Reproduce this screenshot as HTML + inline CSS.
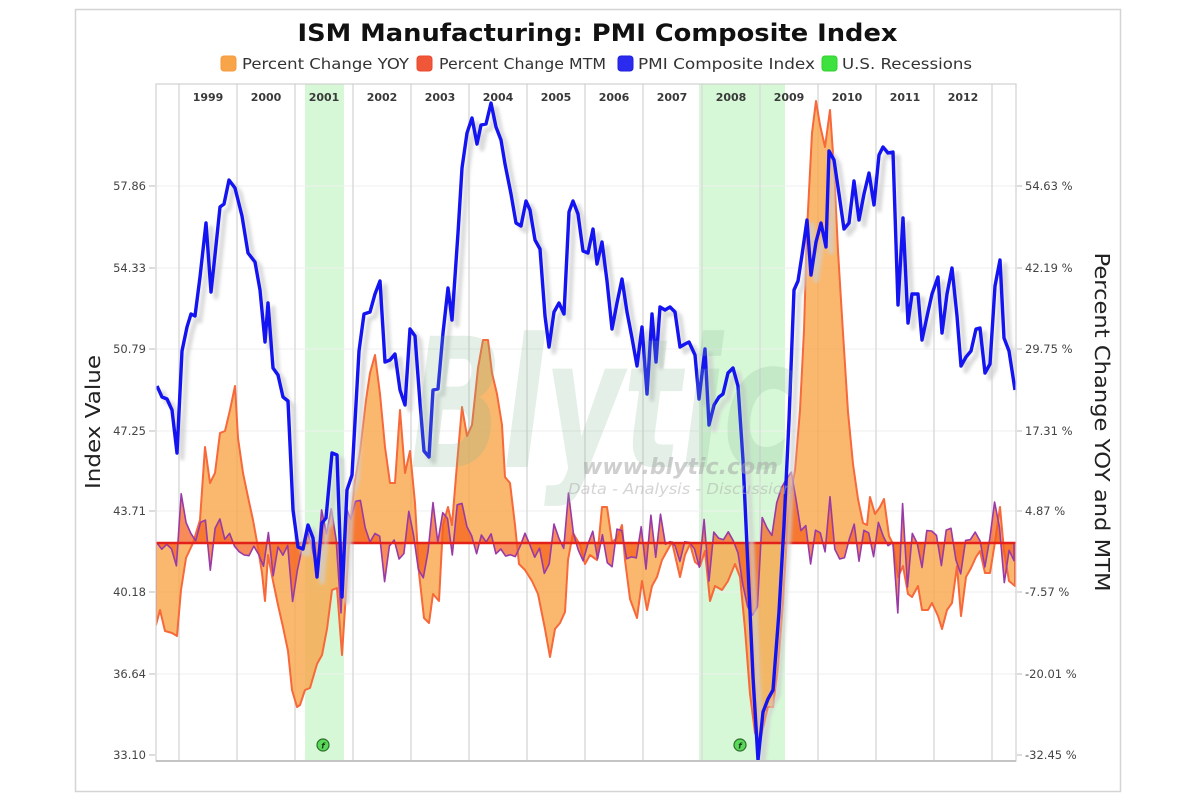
<!DOCTYPE html>
<html>
<head>
<meta charset="utf-8">
<style>
  html,body{margin:0;padding:0;background:#fff;}
  svg{display:block;}
  text{font-family:"DejaVu Sans","Liberation Sans",sans-serif;}
</style>
</head>
<body>
<svg id="chart" width="1200" height="800" viewBox="0 0 1200 800" xmlns="http://www.w3.org/2000/svg">
  <defs>
    <filter id="blur" x="-5%" y="-5%" width="110%" height="110%"><feGaussianBlur stdDeviation="1.6"/></filter>
    <clipPath id="plotclip"><rect x="156" y="84" width="861" height="677"/></clipPath>
  </defs>
  <rect x="0" y="0" width="1200" height="800" fill="#fff"/>
  <!-- outer frame -->
  <rect x="75.5" y="9.5" width="1045" height="782" fill="#fff" stroke="#d4d4d4" stroke-width="1.5"/>

  <!-- title -->
  <text x="597.5" y="41" text-anchor="middle" font-size="24" font-weight="bold" fill="#111" textLength="600" lengthAdjust="spacingAndGlyphs">ISM Manufacturing: PMI Composite Index</text>

  <!-- legend -->
  <rect x="221" y="56" width="15" height="15" rx="3" fill="#f8a54a" stroke="#f59a3c"/>
  <text x="242" y="69" font-size="15" fill="#333" textLength="167" lengthAdjust="spacingAndGlyphs">Percent Change YOY</text>
  <rect x="417" y="56" width="15" height="15" rx="3" fill="#f05638" stroke="#e84a30"/>
  <text x="439" y="69" font-size="15" fill="#333" textLength="167" lengthAdjust="spacingAndGlyphs">Percent Change MTM</text>
  <rect x="618" y="56" width="15" height="15" rx="3" fill="#2b2bf0" stroke="#2020d8"/>
  <text x="638" y="69" font-size="15" fill="#333" textLength="177" lengthAdjust="spacingAndGlyphs">PMI Composite Index</text>
  <rect x="822" y="56" width="15" height="15" rx="3" fill="#3ee23e" stroke="#30d030"/>
  <text x="842" y="69" font-size="15" fill="#333" textLength="130" lengthAdjust="spacingAndGlyphs">U.S. Recessions</text>

  <!-- plot area -->
  <rect x="156" y="84" width="860" height="677" fill="#fff"/>
  <!-- recessions -->
  <rect x="305" y="84" width="39" height="677" fill="#d6f8d6"/>
  <rect x="699" y="84" width="86" height="677" fill="#d6f8d6"/>

  <!-- horizontal gridlines -->
  <g stroke="#efefef" stroke-width="1">
    <line x1="156" y1="186" x2="1016" y2="186"/>
    <line x1="156" y1="268" x2="1016" y2="268"/>
    <line x1="156" y1="349" x2="1016" y2="349"/>
    <line x1="156" y1="431" x2="1016" y2="431"/>
    <line x1="156" y1="511" x2="1016" y2="511"/>
    <line x1="156" y1="592" x2="1016" y2="592"/>
    <line x1="156" y1="674" x2="1016" y2="674"/>
  </g>
  <!-- vertical year gridlines -->
  <g stroke="#dcdcdc" stroke-width="1.5">
    <line x1="179" y1="84" x2="179" y2="761"/>
    <line x1="237" y1="84" x2="237" y2="761"/>
    <line x1="295" y1="84" x2="295" y2="761"/>
    <line x1="353" y1="84" x2="353" y2="761"/>
    <line x1="411" y1="84" x2="411" y2="761"/>
    <line x1="469" y1="84" x2="469" y2="761"/>
    <line x1="527" y1="84" x2="527" y2="761"/>
    <line x1="585" y1="84" x2="585" y2="761"/>
    <line x1="643" y1="84" x2="643" y2="761"/>
    <line x1="702" y1="84" x2="702" y2="761"/>
    <line x1="760" y1="84" x2="760" y2="761"/>
    <line x1="818" y1="84" x2="818" y2="761"/>
    <line x1="876" y1="84" x2="876" y2="761"/>
    <line x1="934" y1="84" x2="934" y2="761"/>
    <line x1="992" y1="84" x2="992" y2="761"/>
  </g>

  <!-- year labels -->
  <g font-size="11" font-weight="bold" fill="#3a3a3a" text-anchor="middle">
    <text x="208" y="101">1999</text>
    <text x="266" y="101">2000</text>
    <text x="324" y="101">2001</text>
    <text x="382" y="101">2002</text>
    <text x="440" y="101">2003</text>
    <text x="498" y="101">2004</text>
    <text x="556" y="101">2005</text>
    <text x="614" y="101">2006</text>
    <text x="672" y="101">2007</text>
    <text x="731" y="101">2008</text>
    <text x="789" y="101">2009</text>
    <text x="847" y="101">2010</text>
    <text x="905" y="101">2011</text>
    <text x="963" y="101">2012</text>
  </g>

  <g clip-path="url(#plotclip)">
    <!-- YOY area -->
    <path id="yoy" fill="#f9a64a" fill-opacity="0.8" stroke="#f7683a" stroke-width="2" stroke-linejoin="round"
      d="M156,543 L156,625 160,610 165,631 172,633 177,636 181,590 186,558 193,543 200,520 205,447 210,483 215,473 220,433 225,431 230,410 235,386 238,438 243,473 248,497 253,520 257,542 262,573 265,601 268,555 273,581 278,605 283,627 288,651 292,690 297,707 300,705 305,690 310,688 317,664 322,655 327,629 332,590 337,588 342,655 347,577 350,525 355,481 360,451 366,400 370,373 375,355 380,394 385,447 390,483 395,483 400,410 405,473 410,451 415,503 419,573 424,618 429,623 433,594 439,601 443,525 448,507 452,525 457,464 462,407 467,436 472,425 478,368 483,340 488,340 492,373 497,394 502,425 505,477 510,483 515,525 519,564 525,570 532,581 538,594 545,629 550,657 555,629 560,623 565,612 568,560 573,533 580,545 585,564 590,555 597,560 602,507 607,507 612,542 617,538 622,525 625,560 630,599 637,618 642,581 647,610 652,586 657,577 662,560 667,551 672,542 677,564 680,577 685,555 690,544 695,562 700,566 705,551 710,601 715,586 722,590 728,581 735,564 740,577 745,629 750,694 755,733 760,742 765,720 768,707 773,707 778,668 783,603 788,520 793,481 795,470 800,410 804,330 807,230 812,133 816,101 820,125 825,147 830,110 834,168 838,251 843,333 848,412 853,464 858,499 863,523 867,525 870,497 875,514 880,507 884,499 889,536 893,544 898,577 903,566 908,594 912,597 918,586 922,610 928,610 932,603 938,616 942,629 947,610 952,603 957,566 961,616 966,577 971,568 976,557 980,551 985,573 990,573 995,542 1000,507 1004,551 1009,581 1015,586 L1015,543 Z"/>
    <!-- MTM area (generated) -->
    <path id="mtm" fill="#f4601a" fill-opacity="0.72" stroke="#9a3aa6" stroke-width="1.6" stroke-linejoin="round" d=""/>
    <!-- zero line -->
    <line x1="156" y1="543" x2="1016" y2="543" stroke="#e4201a" stroke-width="2.6"/>
    <!-- blue shadow -->
    <polyline id="blueShadow" fill="none" stroke="#cfcfcf" stroke-width="5" stroke-opacity="0.75" stroke-linejoin="round" transform="translate(5,5)" filter="url(#blur)" points=""/>
    <!-- blue line -->
    <polyline id="blue" fill="none" stroke="#1414f2" stroke-width="3.4" stroke-linejoin="round" points=""/>
  </g>

  <!-- watermark -->
  <g>
    <text x="410" y="467" font-family="Liberation Sans, sans-serif" font-size="180" font-weight="bold" font-style="italic" fill="#7fb592" fill-opacity="0.22" textLength="385" lengthAdjust="spacingAndGlyphs">Blytic</text>
    <text x="582" y="474" font-family="Liberation Sans, sans-serif" font-size="22" font-weight="bold" font-style="italic" fill="#a8a8a8" fill-opacity="0.55" textLength="196" lengthAdjust="spacingAndGlyphs">www.blytic.com</text>
    <text x="568" y="494" font-family="Liberation Sans, sans-serif" font-size="15" font-style="italic" fill="#b0b0b0" fill-opacity="0.55" textLength="225" lengthAdjust="spacingAndGlyphs">Data - Analysis - Discussion</text>
  </g>

  <!-- recession markers -->
  <g>
    <circle cx="323" cy="745" r="6" fill="#5ad85a" stroke="#2c6e2c" stroke-width="1.2"/>
    <text x="323" y="748.5" font-size="8" font-style="italic" font-weight="bold" fill="#1a3a1a" text-anchor="middle">f</text>
    <circle cx="740" cy="745" r="6" fill="#5ad85a" stroke="#2c6e2c" stroke-width="1.2"/>
    <text x="740" y="748.5" font-size="8" font-style="italic" font-weight="bold" fill="#1a3a1a" text-anchor="middle">f</text>
  </g>

  <!-- plot border -->
  <rect x="156" y="84" width="860" height="677" fill="none" stroke="#d0d0d0" stroke-width="1.2"/>
  <line x1="156" y1="761" x2="1016" y2="761" stroke="#c4c4c4" stroke-width="2"/>

  <!-- left ticks & labels -->
  <g stroke="#bbb" stroke-width="1">
    <line x1="149" y1="186" x2="155" y2="186"/>
    <line x1="149" y1="268" x2="155" y2="268"/>
    <line x1="149" y1="349" x2="155" y2="349"/>
    <line x1="149" y1="431" x2="155" y2="431"/>
    <line x1="149" y1="511" x2="155" y2="511"/>
    <line x1="149" y1="592" x2="155" y2="592"/>
    <line x1="149" y1="674" x2="155" y2="674"/>
    <line x1="149" y1="755" x2="155" y2="755"/>
    <line x1="1017" y1="186" x2="1022" y2="186"/>
    <line x1="1017" y1="268" x2="1022" y2="268"/>
    <line x1="1017" y1="349" x2="1022" y2="349"/>
    <line x1="1017" y1="431" x2="1022" y2="431"/>
    <line x1="1017" y1="511" x2="1022" y2="511"/>
    <line x1="1017" y1="592" x2="1022" y2="592"/>
    <line x1="1017" y1="674" x2="1022" y2="674"/>
    <line x1="1017" y1="755" x2="1022" y2="755"/>
  </g>
  <g font-size="11.5" fill="#444" text-anchor="end">
    <text x="146" y="190">57.86</text>
    <text x="146" y="272">54.33</text>
    <text x="146" y="353">50.79</text>
    <text x="146" y="435">47.25</text>
    <text x="146" y="515">43.71</text>
    <text x="146" y="596">40.18</text>
    <text x="146" y="678">36.64</text>
    <text x="146" y="759">33.10</text>
  </g>
  <g font-size="11.5" fill="#444" text-anchor="start">
    <text x="1025" y="190">54.63 %</text>
    <text x="1025" y="272">42.19 %</text>
    <text x="1025" y="353">29.75 %</text>
    <text x="1025" y="435">17.31 %</text>
    <text x="1025" y="515">4.87 %</text>
    <text x="1025" y="596">-7.57 %</text>
    <text x="1025" y="678">-20.01 %</text>
    <text x="1025" y="759">-32.45 %</text>
  </g>

  <!-- axis titles -->
  <text transform="translate(100,422) rotate(-90)" text-anchor="middle" font-size="20" fill="#222" textLength="134" lengthAdjust="spacingAndGlyphs">Index Value</text>
  <text transform="translate(1095,422) rotate(90)" text-anchor="middle" font-size="20" fill="#222" textLength="339" lengthAdjust="spacingAndGlyphs">Percent Change YOY and MTM</text>
</svg>

<script>
(function(){
  var pts = "157,386 162,397 167,399 172,410 177,453 182,351 187,327 191,314 195,316 200,277 206,223 211,292 215,255 220,207 224,204 229,180 235,188 242,216 248,253 255,262 260,290 265,342 268,303 273,368 278,375 283,397 288,401 293,510 298,547 303,549 308,525 313,538 317,577 322,523 326,518 332,453 337,455 342,597 347,490 352,475 359,351 364,314 370,312 375,294 380,281 385,362 390,360 395,354 400,390 405,405 410,329 415,336 420,403 424,451 429,457 433,390 438,389 443,333 448,288 452,320 458,233 462,168 467,133 472,118 477,144 481,125 486,124 491,103 496,127 501,140 505,164 511,194 516,223 521,226 526,201 530,210 535,240 540,249 545,316 549,347 554,312 559,303 564,314 569,212 573,201 578,214 583,251 588,253 593,229 597,264 602,242 607,281 612,329 617,303 622,279 627,312 632,338 637,366 642,327 647,394 652,314 656,362 660,307 665,310 670,307 675,312 680,347 685,344 689,342 695,355 699,399 705,349 709,425 714,405 719,397 723,394 728,373 733,368 738,386 743,460 748,568 753,677 758,760 763,712 768,699 773,690 779,612 784,525 789,420 794,290 798,281 802,255 807,220 811,275 816,242 821,223 826,247 829,151 834,160 839,194 844,229 849,223 854,181 859,220 864,194 869,173 874,205 879,155 883,147 888,153 893,152 898,305 903,218 908,323 912,294 918,294 922,340 928,312 932,294 938,277 942,333 947,294 952,268 957,316 961,366 966,357 971,351 976,329 980,328 985,373 990,364 995,286 1000,260 1004,338 1009,351 1015,390";
  document.getElementById('blue').setAttribute('points', pts);
  document.getElementById('blueShadow').setAttribute('points', pts);
  var arr = pts.split(' ').map(function(p){var a=p.split(',');return [parseFloat(a[0]),parseFloat(a[1])];});
  function yAt(x){
    if(x<=arr[0][0]) return arr[0][1];
    for(var i=1;i<arr.length;i++){
      if(x<=arr[i][0]){
        var t=(x-arr[i-1][0])/(arr[i][0]-arr[i-1][0]);
        return arr[i-1][1]+t*(arr[i][1]-arr[i-1][1]);
      }
    }
    return arr[arr.length-1][1];
  }
  function val(y){return 33.10+(755-y)/22.98;}
  var step=58.1/12, x0=157;
  var d="M"+x0+",543";
  var prev=val(yAt(x0));
  var x=x0;
  d+=" L"+x0+",543";
  var lastx=x0;
  for(var i=1;;i++){
    x=x0+i*step;
    if(x>1015.5) break;
    var v=val(yAt(x));
    var pct=(v-prev)/prev*100;
    var ym=543-pct*6.535;
    d+=" L"+x.toFixed(1)+","+ym.toFixed(1);
    prev=v; lastx=x;
  }
  d+=" L"+lastx.toFixed(1)+",543 Z";
  document.getElementById('mtm').setAttribute('d', d);
})();
</script>
</body>
</html>
